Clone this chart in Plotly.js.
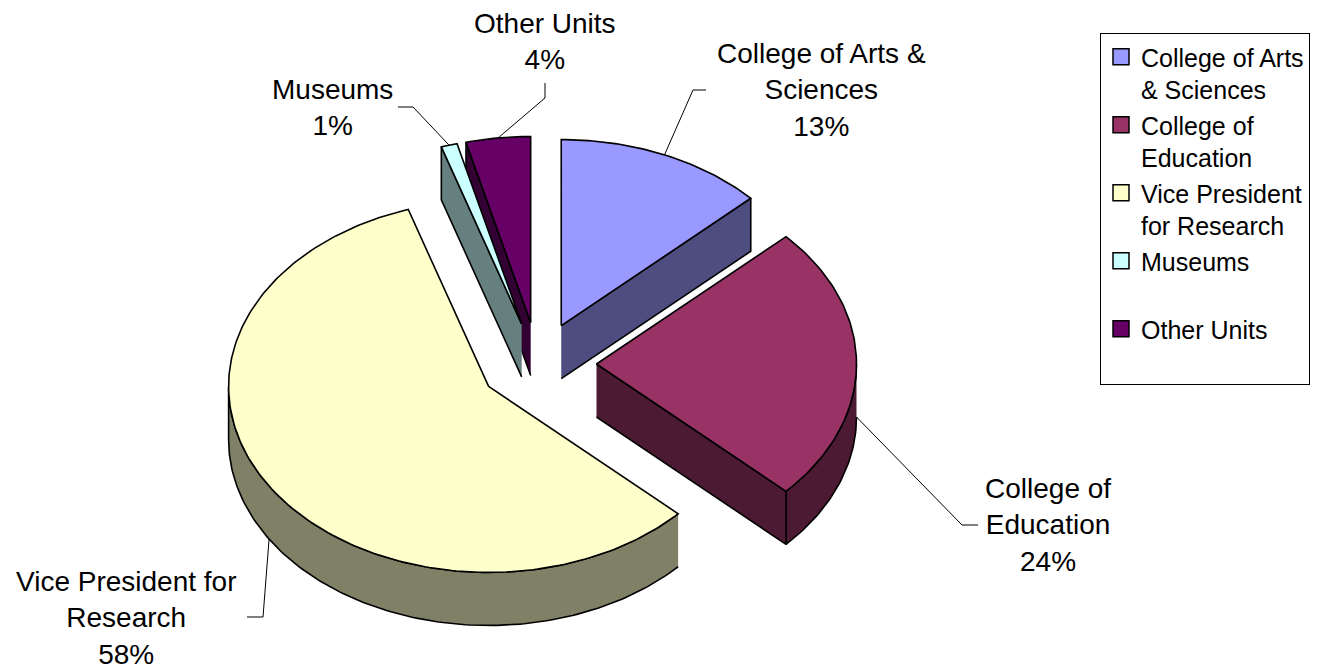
<!DOCTYPE html>
<html>
<head>
<meta charset="utf-8">
<script src="https://cdn.plot.ly/plotly-3.0.1.min.js"></script>
<style>html,body{margin:0;padding:0;background:#fff;}#chart{width:1330px;height:670px;}</style>
</head>
<body>
<div id="chart"></div>
<script>
// ---- data ----
const categories = ['College of Arts & Sciences', 'College of Education', 'Vice President for Research', 'Museums', 'Other Units'];
const values = [13, 24, 58, 1, 4];
const legendLabels = ['College of Arts<br>& Sciences', 'College of<br>Education', 'Vice President<br>for Research', 'Museums<br>\u00a0', 'Other Units<br>\u00a0'];
const sliceLabels = ['College of Arts &<br>Sciences', 'College of<br>Education', 'Vice President for<br>Research', 'Museums', 'Other Units'];

// ---- styles ----
const topColors = ['#9999FF', '#993366', '#FFFFCC', '#CCFFFF', '#660066'];
const sideColors = ['#4D4D80', '#4D1A33', '#808066', '#668080', '#330033'];

// ---- pie geometry (layout, pixels) ----
const CX = 538, CY = 364, RX = 260, RY = 186, EXPLODE = 0.225, DEPTH = 53;
const drawOrder = [4, 3, 0, 1, 2];

// ---- label layout ----
const labelX = [821, 1048, 126, 332, 545];
const labelY = [90, 525, 618, 107, 41];
const stubFrom = [[706, 90], [978, 525], [247, 617], [398, 107], [545, 83]];
const stubTo = [[693, 90], [962, 525], [263, 617], [413, 107], [545, 98]];

const total = values.reduce((a, b) => a + b, 0);
const starts = [];
let acc = 0;
values.forEach(v => { starts.push(acc / total * 360); acc += v; });
const ends = values.map((v, i) => starts[i] + v / total * 360);

function rad(d) { return d * Math.PI / 180; }
function apex(i) {
  const m = rad((starts[i] + ends[i]) / 2);
  return [CX + EXPLODE * RX * Math.sin(m), CY - EXPLODE * RY * Math.cos(m)];
}
function pt(P, th, dy) { const r = rad(th); return [P[0] + RX * Math.sin(r), P[1] - RY * Math.cos(r) + (dy || 0)]; }
function arc(P, a, b, dy) {
  const n = Math.max(2, Math.ceil(Math.abs(b - a)));
  const out = [];
  for (let k = 0; k <= n; k++) out.push(pt(P, a + (b - a) * k / n, dy));
  return out;
}
function poly(points, fill) {
  return {
    type: 'scatter', mode: 'lines',
    x: points.map(p => p[0]), y: points.map(p => p[1]),
    fill: 'toself', fillcolor: fill,
    line: { color: '#000', width: 1.6 },
    showlegend: false, hoverinfo: 'skip'
  };
}

const traces = [];
drawOrder.forEach(i => {
  const P = apex(i), a0 = starts[i], a1 = ends[i];
  // outer curved side (front half only)
  const fa = Math.max(a0, 90), fb = Math.min(a1, 270);
  if (fb > fa) {
    const topArc = arc(P, fa, fb, 0);
    const botArc = arc(P, fa, fb, DEPTH).reverse();
    traces.push(poly(topArc.concat(botArc), sideColors[i]));
  }
  // radial side faces
  if (Math.sin(rad(a0)) < -1e-6) {
    const q = pt(P, a0, 0);
    traces.push(poly([P, q, [q[0], q[1] + DEPTH], [P[0], P[1] + DEPTH]], sideColors[i]));
  }
  if (Math.sin(rad(a1)) > 1e-6) {
    const q = pt(P, a1, 0);
    traces.push(poly([P, q, [q[0], q[1] + DEPTH], [P[0], P[1] + DEPTH]], sideColors[i]));
  }
  // top face
  traces.push(poly([P].concat(arc(P, a0, a1, 0)).concat([P]), topColors[i]));
});

// leader lines and labels
const annotations = [];
values.forEach((v, i) => {
  const P = apex(i), m = (starts[i] + ends[i]) / 2;
  const front = Math.cos(rad(m)) <= 1e-3;
  const s = pt(P, m, front ? DEPTH : 0);
  traces.push({
    type: 'scatter', mode: 'lines',
    x: [s[0], stubTo[i][0], stubFrom[i][0]],
    y: [s[1], stubTo[i][1], stubFrom[i][1]],
    line: { color: '#000', width: 1 },
    showlegend: false, hoverinfo: 'skip'
  });
  annotations.push({
    x: labelX[i], y: labelY[i], xref: 'x', yref: 'y',
    text: sliceLabels[i] + '<br>' + Math.round(v / total * 100) + '%',
    showarrow: false, xanchor: 'center', yanchor: 'middle', align: 'center',
    font: { family: 'Liberation Sans, Arial, sans-serif', size: 28, color: '#000' }
  });
});

// legend entries
categories.forEach((c, i) => {
  traces.push({
    type: 'scatter', mode: 'markers', x: [null], y: [null],
    name: legendLabels[i],
    marker: { symbol: 'square', size: 16, color: topColors[i], line: { color: '#000', width: 1.5 } },
    showlegend: true, hoverinfo: 'skip'
  });
});

const layout = {
  width: 1330, height: 670,
  margin: { l: 0, r: 0, t: 0, b: 0 },
  paper_bgcolor: '#fff', plot_bgcolor: '#fff',
  xaxis: { range: [0, 1330], visible: false, fixedrange: true },
  yaxis: { range: [670, 0], visible: false, fixedrange: true },
  showlegend: true,
  legend: {
    x: 1100 / 1330, y: 1 - 33 / 670, xanchor: 'left', yanchor: 'top',
    bordercolor: '#000', borderwidth: 1, bgcolor: '#fff',
    font: { family: 'Liberation Sans, Arial, sans-serif', size: 25, color: '#000' },
    valign: 'top', traceorder: 'normal', itemclick: false, itemdoubleclick: false
  },
  annotations: annotations
};

Plotly.newPlot('chart', traces, layout, { displayModeBar: false, staticPlot: true });
</script>
</body>
</html>
